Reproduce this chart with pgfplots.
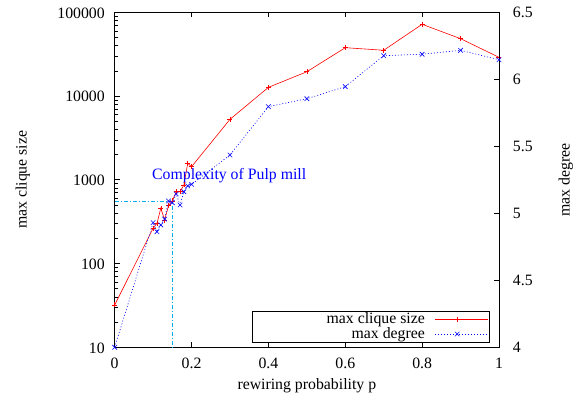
\documentclass[border=0pt]{standalone}
\usepackage{pgfplots}
\pgfplotsset{compat=1.18}
\usepackage{fontspec}
\setmainfont{Liberation Serif}
\begin{document}
\begin{tikzpicture}
\pgfplotsset{
  every axis/.append style={
    font=\fontsize{15.8}{18}\selectfont,
    scale only axis, width=384.3pt, height=335pt,
    xmin=0, xmax=1,
    tick align=inside,
    major tick length=5pt, minor tick length=3pt,
    axis line style={line width=0.7pt},
    every tick/.style={black, line width=0.6pt},
    /pgf/number format/assume math mode=true,
  },
}
\begin{axis}[
  name=ax,
  ymode=log, ymin=10, ymax=100000,
  xtick={0,0.2,0.4,0.6,0.8,1},
  xticklabels={0,0.2,0.4,0.6,0.8,1},
  xtick pos=both,
  ytick={10,100,1000,10000,100000},
  yticklabels={10,100,1000,10000,100000},
  minor ytick={20,30,40,50,60,70,80,90,200,300,400,500,600,700,800,900,2000,3000,4000,5000,6000,7000,8000,9000,20000,30000,40000,50000,60000,70000,80000,90000},
  ytick pos=left,
  xticklabel style={anchor=base, inner sep=0pt, yshift=-21.3pt},
  yticklabel style={anchor=base east, inner sep=0pt, xshift=-9.7pt, yshift=-5.8pt},
  xlabel={rewiring probability p},
  ylabel={max clique size},
  xlabel style={at={(axis description cs:0.5,-0.1155)}, anchor=center},
  ylabel style={at={(axis description cs:-0.239,0.5)}, anchor=center, rotate=0},
  clip=false,
]
\addplot[red, line width=0.6pt, mark=+, mark size=2.5pt, mark options={solid}] coordinates {
(0,32)(0.1,264)(0.11,302)(0.12,457)(0.13,331)(0.14,490)(0.15,560)(0.16,721)(0.17,720)(0.18,867)(0.19,1574)(0.2,1433)(0.3,5270)(0.4,12700)(0.5,19500)(0.6,37800)(0.7,35200)(0.8,71900)(0.9,48400)(1,29000)
};
\draw[cyan, line width=0.6pt, dash pattern=on 4pt off 2pt on 1pt off 2pt] (axis cs:0,558) -- (axis cs:0.151,558) -- (axis cs:0.151,10);
\node[blue, anchor=base west, inner sep=0pt] at (axis cs:0.097,1000) {Complexity of Pulp mill};
\end{axis}
\begin{axis}[
  axis x line=none,
  axis y line*=right,
  ymin=4, ymax=6.5,
  ytick={4,4.5,5,5.5,6,6.5},
  yticklabels={4,4.5,5,5.5,6,6.5},
  yticklabel style={anchor=base west, inner sep=0pt, xshift=13.7pt, yshift=-5.6pt},
  ylabel={max degree},
  ylabel style={at={(axis description cs:1.174,0.5)}, anchor=center, rotate=0},
  legend plot pos=right,
  legend cell align=right,
  legend style={at={(axis description cs:0.9748,0.0149)}, anchor=south east,
    draw=black, line width=0.6pt, fill=white, inner sep=0.5pt, row sep=0pt, column sep=10pt,
    nodes={inner sep=0pt, text height=11.5pt, text depth=3.5pt}},
  legend image code/.code={
    \draw[mark repeat=2, mark phase=2, #1] plot coordinates {(0pt,0pt)(22pt,0pt)(44pt,0pt)};
    \path (0pt,0pt) -- (53pt,0pt);
  },
]
\addlegendimage{red, line width=0.6pt, mark=+, mark size=2.5pt, mark options={solid}}
\addlegendentry{\makebox[172pt][r]{max clique size}}
\addplot[blue, line width=0.6pt, dash pattern=on 1pt off 2pt, mark=x, mark size=3.2pt, mark options={solid}] coordinates {
(0,4.0)(0.1,4.93)(0.11,4.863)(0.12,4.913)(0.13,4.957)(0.14,5.092)(0.15,5.079)(0.16,5.144)(0.17,5.062)(0.18,5.161)(0.19,5.204)(0.2,5.216)(0.3,5.435)(0.4,5.796)(0.5,5.855)(0.6,5.945)(0.7,6.176)(0.8,6.187)(0.9,6.216)(1,6.146)
};
\addlegendentry{\makebox[172pt][r]{max degree}}
\end{axis}
\pgfresetboundingbox
\path ([shift={(-114.7pt,-52.7pt)}]ax.south west) rectangle ([shift={(88pt,12.3pt)}]ax.north east);
\end{tikzpicture}
\end{document}
